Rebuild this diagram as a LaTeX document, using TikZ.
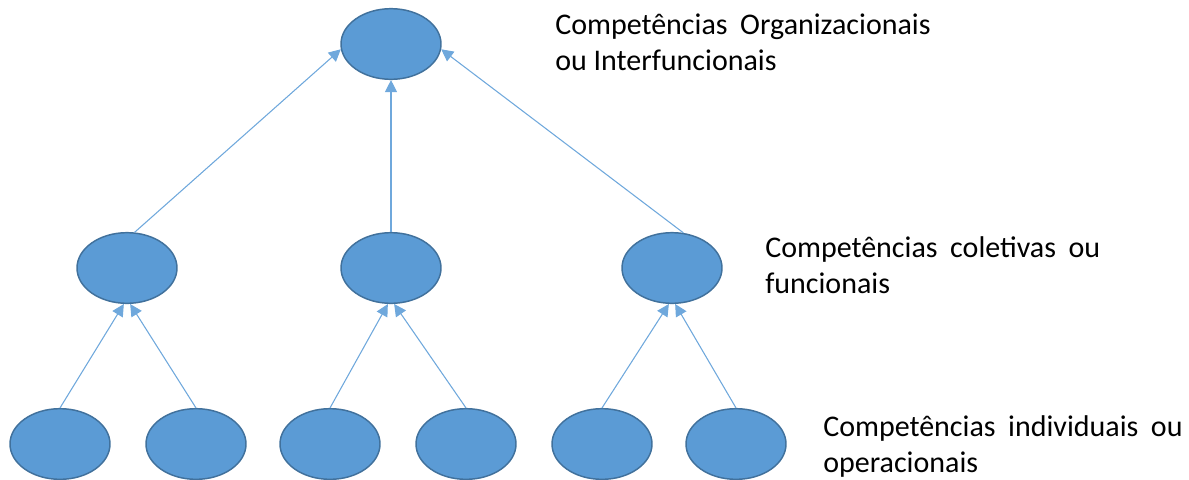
\documentclass[tikz,border=0pt]{standalone}
\usepackage{fontspec}
\setmainfont{Carlito}
\usetikzlibrary{shapes.geometric,arrows.meta}
\definecolor{efill}{HTML}{5B9BD5}
\definecolor{edraw}{HTML}{41719C}
\definecolor{aline}{HTML}{6FA8DC}
\newcommand{\wsp}{\hspace{0.42em}}
\tikzset{
  blob/.style={ellipse,draw=edraw,fill=efill,line width=1.1pt,minimum width=75pt,minimum height=53pt,inner sep=0pt},
  link/.style={draw=aline,line width=0.8pt,-{Triangle[length=9pt,width=9pt]}},
  lbl/.style={anchor=base west,inner sep=0pt,align=left,font=\fontsize{22.5pt}{26.5pt}\selectfont}
}
\begin{document}
\begin{tikzpicture}[x=0.75pt,y=-0.75pt]
\useasboundingbox (0,0) rectangle (1189,479);
\node[blob] (t) at (391,44) {};
\node[blob] (m1) at (127,268) {};
\node[blob] (m2) at (391,268) {};
\node[blob] (m3) at (672,268) {};
\node[blob] (b1) at (60,444) {};
\node[blob] (b2) at (196,444) {};
\node[blob] (b3) at (330,444) {};
\node[blob] (b4) at (466,444) {};
\node[blob] (b5) at (602,444) {};
\node[blob] (b6) at (736,444) {};
\draw[link] (b1.north) -- (m1.-95);
\draw[link] (b2.north) -- (m1.-85);
\draw[link] (b3.north) -- (m2.-95);
\draw[link] (b4.north) -- (m2.-85);
\draw[link] (b5.north) -- (m3.-95);
\draw[link] (b6.north) -- (m3.-85);
\draw[link] (m1.78) -- (t.186);
\draw[link] (m2.north) -- (t.south);
\draw[link] (m3.72) -- (t.-6);
\node[lbl] (lt) at (555,70) {Competências\wsp Organizacionais\\ou Interfuncionais};
\node[lbl] (lm) at (765,293) {Competências\wsp coletivas\wsp ou\\funcionais};
\node[lbl] (lb) at (823,472) {Competências\wsp individuais\wsp ou\\operacionais};
\end{tikzpicture}
\end{document}
